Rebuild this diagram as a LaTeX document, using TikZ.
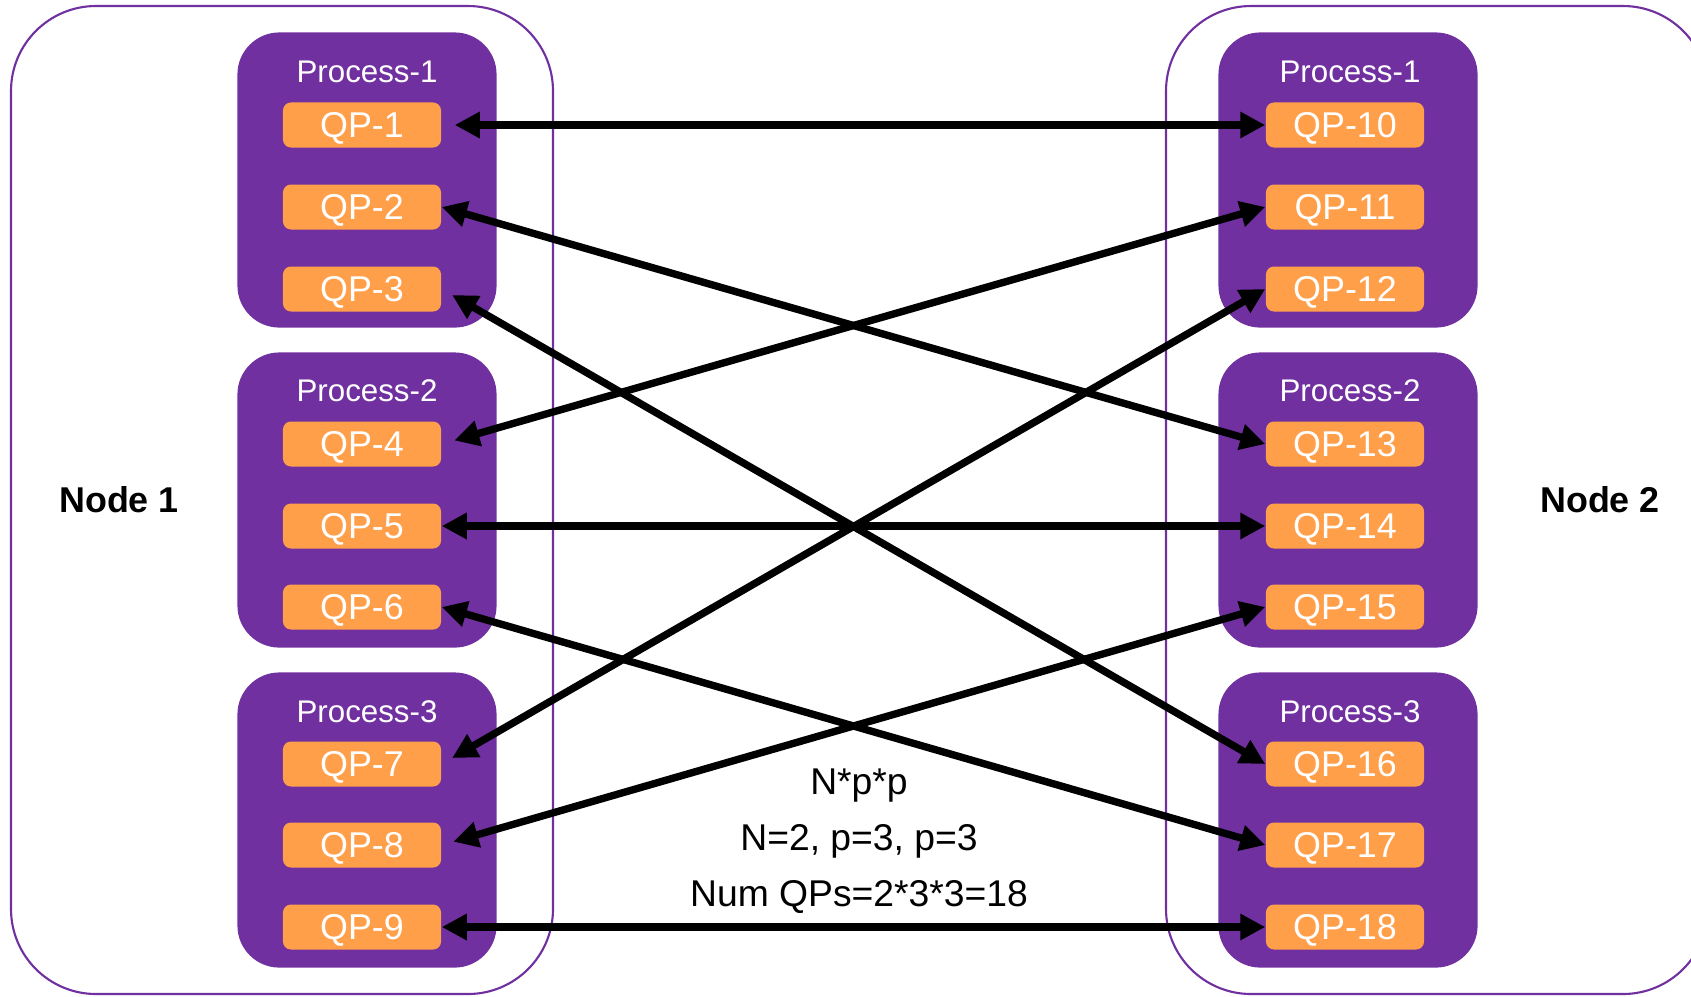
\documentclass[tikz,border=0pt]{standalone}
\usepackage{fontspec}
\setmainfont{Liberation Sans}
\usetikzlibrary{arrows.meta}
\definecolor{procpurple}{HTML}{7030A0}
\definecolor{qporange}{HTML}{FF9F4A}

\begin{document}
\begin{tikzpicture}[x = 0.01cm, y = -0.01cm,
    host/.style = {draw = procpurple, line width = 0.6pt, rounded corners = 0.85cm},
    proc/.style = {rectangle, fill = procpurple, rounded corners = 0.42cm, minimum width = 2.59cm, minimum height = 2.95cm},
    plabel/.style = {text = white, inner sep = 0pt, font = \fontsize{8.9}{10}\selectfont},
    qp/.style = {rectangle, fill = qporange, rounded corners = 0.08cm, minimum width = 1.58cm, minimum height = 0.45cm, inner sep = 0pt, text height = 0.25cm, text depth = 0pt, text = white, font = \fontsize{10.2}{12}\selectfont},
    link/.style = {<->, >={Triangle[length = 0.25cm, width = 0.25cm]}, line width = 2.1pt}]
    \clip (0,0) rectangle (1691,996);
    \draw [host] (11,6) rectangle (553,994);
    \draw [host] (1166,6) rectangle (1708,994);
    \node [font = \bfseries\fontsize{10.2}{12}\selectfont] (node1) at (119,500) {Node 1};
    \node [font = \bfseries\fontsize{10.2}{12}\selectfont] (node2) at (1600,500) {Node 2};
    % processes on node 1
    \node [proc] (pl1) at (367,180) {};
    \node [proc] (pl2) at (367,500) {};
    \node [proc] (pl3) at (367,820) {};
    \node [plabel] (tl1) at (367,72) {Process-1};
    \node [plabel] (tl2) at (367,391) {Process-2};
    \node [plabel] (tl3) at (367,712) {Process-3};
    % processes on node 2
    \node [proc] (pr1) at (1348,180) {};
    \node [proc] (pr2) at (1348,500) {};
    \node [proc] (pr3) at (1348,820) {};
    \node [plabel] (tr1) at (1350,72) {Process-1};
    \node [plabel] (tr2) at (1350,391) {Process-2};
    \node [plabel] (tr3) at (1350,712) {Process-3};
    % queue pairs
    \node [qp] (q1) at (362,125) {QP-1};
    \node [qp] (q2) at (362,207) {QP-2};
    \node [qp] (q3) at (362,289) {QP-3};
    \node [qp] (q4) at (362,444) {QP-4};
    \node [qp] (q5) at (362,526) {QP-5};
    \node [qp] (q6) at (362,607) {QP-6};
    \node [qp] (q7) at (362,764) {QP-7};
    \node [qp] (q8) at (362,845) {QP-8};
    \node [qp] (q9) at (362,927) {QP-9};
    \node [qp] (q10) at (1345,125) {QP-10};
    \node [qp] (q11) at (1345,207) {QP-11};
    \node [qp] (q12) at (1345,289) {QP-12};
    \node [qp] (q13) at (1345,444) {QP-13};
    \node [qp] (q14) at (1345,526) {QP-14};
    \node [qp] (q15) at (1345,607) {QP-15};
    \node [qp] (q16) at (1345,764) {QP-16};
    \node [qp] (q17) at (1345,845) {QP-17};
    \node [qp] (q18) at (1345,927) {QP-18};
    % connections
    \draw [link, shorten < = 0.13cm] (q1.east) -- (q10.west);
    \draw [link] (q2.east) -- (q13.west);
    \draw [link, shorten < = 0.12cm] (q3.east) -- (q16.west);
    \draw [link, shorten < = 0.13cm] (q4.east) -- (q11.west);
    \draw [link] (q5.east) -- (q14.west);
    \draw [link] (q6.east) -- (q17.west);
    \draw [link, shorten < = 0.12cm] (q7.east) -- (q12.west);
    \draw [link, shorten < = 0.12cm] (q8.east) -- (q15.west);
    \draw [link] (q9.east) -- (q18.west);
    \node [align = center, font = \fontsize{10.6}{15.9}\selectfont] (count) at (859,841) {N*p*p\\N=2, p=3, p=3\\Num QPs=2*3*3=18};
\end{tikzpicture}
\end{document}
